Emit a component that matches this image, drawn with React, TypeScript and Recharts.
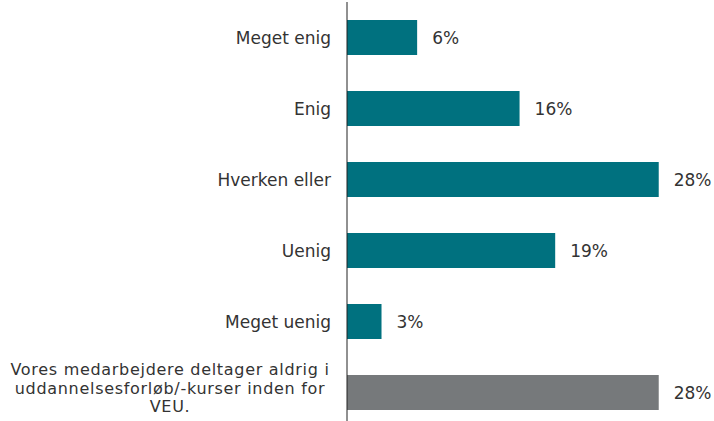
import React from 'react';
import { BarChart, Bar, XAxis, YAxis, Cell, LabelList } from 'recharts';

const categories = [
  'Meget enig',
  'Enig',
  'Hverken eller',
  'Uenig',
  'Meget uenig',
  'Vores medarbejdere deltager aldrig i uddannelsesforløb/-kurser inden for VEU.',
];
const shares = [6.3, 15.5, 28, 18.7, 3.1, 28];

const data = categories.map((name, i) => ({ name, value: shares[i] }));

const TEAL = '#00717f';
const GREY = '#76797b';
const TEXT = '#333333';
const FONT = '"DejaVu Sans", Verdana, sans-serif';

function wrap(text: string, maxChars: number) {
  const words = text.split(' ');
  const lines: string[] = [];
  let cur = '';
  words.forEach((w) => {
    const next = cur ? cur + ' ' + w : w;
    if (next.length > maxChars && cur) {
      lines.push(cur);
      cur = w;
    } else {
      cur = next;
    }
  });
  if (cur) lines.push(cur);
  return lines;
}

const CategoryTick = (props: any) => {
  const { x, y, payload } = props;
  const lines = wrap(String(payload.value), 36);
  if (lines.length === 1) {
    return (
      <text x={x - 8} y={y} dy={6} textAnchor="end" fill={TEXT} fontSize={17} fontFamily={FONT}>
        {lines[0]}
      </text>
    );
  }
  // slightly smaller font so the tight leading doesn't collide
  const lh = 18.5;
  const startY = y + 1 - ((lines.length - 1) * lh) / 2;
  return (
    <text x={x - 169} y={startY} textAnchor="middle" fill={TEXT} fontSize={16} fontFamily={FONT} letterSpacing={0.7}>
      {lines.map((l, i) => (
        <tspan key={i} x={x - 169} dy={i === 0 ? 0 : lh}>
          {l}
        </tspan>
      ))}
    </text>
  );
};

export default function App() {
  return (
    <div style={{ position: 'absolute', left: 0, top: 0, width: 714, height: 421, overflow: 'hidden', background: '#fff' }}>
      <BarChart
        width={714}
        height={430}
        data={data}
        layout="vertical"
        margin={{ top: 2, right: 33, bottom: 2, left: 0 }}
      >
        <XAxis type="number" domain={[0, 30]} hide />
        <YAxis
          type="category"
          dataKey="name"
          width={347}
          axisLine={{ stroke: '#222' }}
          tickLine={false}
          interval={0}
          tick={<CategoryTick />}
        />
        <Bar dataKey="value" barSize={35} isAnimationActive={false}>
          {data.map((d, i) => (
            <Cell key={i} fill={i === data.length - 1 ? GREY : TEAL} />
          ))}
          <LabelList
            dataKey="value"
            position="right"
            offset={15}
            formatter={(v: any) => `${Math.round(Number(v))}%`}
            style={{ fill: TEXT, fontSize: 17, fontFamily: FONT }}
          />
        </Bar>
      </BarChart>
    </div>
  );
}
